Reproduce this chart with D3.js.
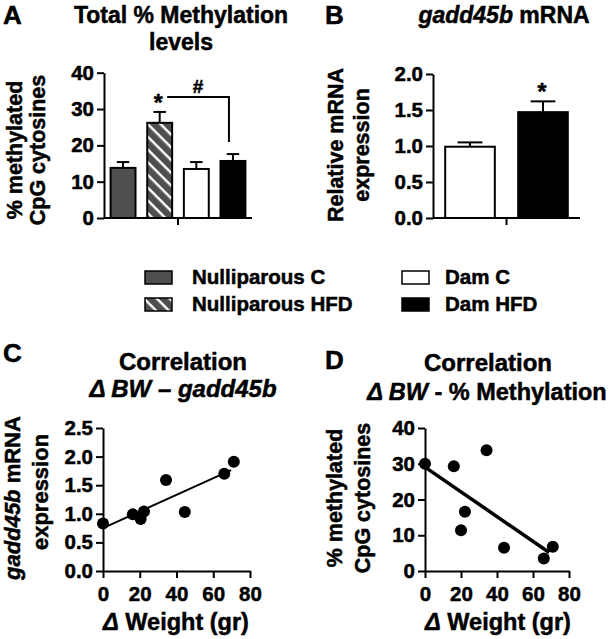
<!DOCTYPE html>
<html>
<head>
<meta charset="utf-8">
<script src="https://cdn.jsdelivr.net/npm/d3@7"></script>
<style>
  body { margin: 0; background: #fff; }
  svg text { font-family: "Liberation Sans", Arial, Helvetica, sans-serif; font-weight: bold; fill: #000; stroke: #000; stroke-width: 0.5px; }
</style>
</head>
<body>
<script>
// ---------------- DATA ----------------
const methylCategories = ["Nulliparous C", "Nulliparous HFD", "Dam C", "Dam HFD"];
const methylMean = [13.8, 26.2, 13.5, 15.7];
const methylSem  = [1.6, 3.0, 1.9, 1.9];
const methylTicks = [0, 10, 20, 30, 40];

const mrnaCategories = ["Dam C", "Dam HFD"];
const mrnaMean = [0.99, 1.47];
const mrnaSem  = [0.06, 0.15];
const mrnaTicks = [0, 0.5, 1.0, 1.5, 2.0];

const weightTicks = [0, 20, 40, 60, 80];

const gaddWeight = [0, 16.2, 20.5, 22.3, 34.3, 44.5, 66.0, 71.2];
const gaddExpr   = [0.83, 0.99, 0.91, 1.04, 1.59, 1.03, 1.70, 1.91];
const gaddTicks  = [0, 0.5, 1.0, 1.5, 2.0, 2.5];

const methWeight = [0, 16.0, 34.2, 22.2, 20.0, 43.9, 66.0, 71.0];
const methPct    = [30.0, 29.3, 33.8, 16.6, 11.4, 6.5, 3.5, 6.8];
const methTicks  = [0, 10, 20, 30, 40];

const legendItems = ["Nulliparous C", "Nulliparous HFD", "Dam C", "Dam HFD"];

// ---------------- STYLES ----------------
const fillOf = {
  "Nulliparous C": "#4f4f4f",
  "Nulliparous HFD": "url(#hatch)",
  "Dam C": "#ffffff",
  "Dam HFD": "#000000"
};

const svg = d3.select("body").append("svg").attr("width", 611).attr("height", 639);

const defs = svg.append("defs");
const pat = defs.append("pattern").attr("id", "hatch")
  .attr("patternUnits", "userSpaceOnUse").attr("width", 9).attr("height", 9)
  .attr("patternTransform", "rotate(45)");
pat.append("rect").attr("width", 9).attr("height", 9).attr("fill", "#4f4f4f");
pat.append("rect").attr("y", 0).attr("width", 9).attr("height", 2.4).attr("fill", "#ffffff");

function styleAxis(g, size) {
  g.selectAll("path.domain").attr("stroke", "#000").attr("stroke-width", 2);
  g.selectAll(".tick line").attr("stroke", "#000").attr("stroke-width", 2);
  g.selectAll(".tick text").style("font-size", (size || 20.5) + "px")
    .style("font-family", '"Liberation Sans", Arial, sans-serif').style("font-weight", "bold")
    .attr("fill", "#000").attr("stroke", "#000").attr("stroke-width", 0.5);
}

function yAxis(scale, ticks, fmt, x) {
  const g = svg.append("g").attr("transform", `translate(${x},0)`)
    .call(d3.axisLeft(scale).tickValues(ticks).tickFormat(fmt).tickSize(7).tickSizeOuter(0).tickPadding(3));
  styleAxis(g);
  return g;
}

function text(x, y, parts, size, anchor, rotate) {
  const t = svg.append("text").attr("x", x).attr("y", y)
    .attr("text-anchor", anchor || "middle").style("font-size", size + "px");
  if (rotate) t.attr("transform", `rotate(-90,${x},${y})`);
  parts.forEach(p => {
    const s = t.append("tspan").text(p[0]);
    if (p[1]) s.style("font-style", "italic");
  });
  return t;
}

// ---------------- PANEL A ----------------
const xA = d3.scaleBand().domain(methylCategories).range([104, 252]).paddingInner(0.32).paddingOuter(0.18);
const yA = d3.scaleLinear().domain([0, 40]).range([218, 72.7]);

const barsA = methylCategories.map((c, i) => ({ c, m: methylMean[i], s: methylSem[i] }));
svg.append("g").selectAll("rect").data(barsA).join("rect")
  .attr("x", d => xA(d.c)).attr("width", xA.bandwidth())
  .attr("y", d => yA(d.m)).attr("height", d => yA(0) - yA(d.m))
  .attr("fill", d => fillOf[d.c]).attr("stroke", "#000").attr("stroke-width", 2);
const errA = svg.append("g").attr("stroke", "#000").attr("stroke-width", 2);
barsA.forEach(d => {
  const cx = xA(d.c) + xA.bandwidth() / 2, w = xA.bandwidth() / 2;
  errA.append("line").attr("x1", cx).attr("x2", cx).attr("y1", yA(d.m)).attr("y2", yA(d.m + d.s));
  errA.append("line").attr("x1", cx - w / 2).attr("x2", cx + w / 2).attr("y1", yA(d.m + d.s)).attr("y2", yA(d.m + d.s));
});
yAxis(yA, methylTicks, d3.format("d"), 104);
svg.append("line").attr("x1", 104).attr("x2", 252).attr("y1", yA(0)).attr("y2", yA(0)).attr("stroke", "#000").attr("stroke-width", 2);
svg.append("line").attr("x1", 178).attr("x2", 178).attr("y1", yA(0)).attr("y2", yA(0) + 7).attr("stroke", "#000").attr("stroke-width", 2);

// significance A
{
  const b2 = barsA[1], b4 = barsA[3];
  const sx = xA(b2.c) + xA.bandwidth() / 2 - 1.5;
  const sy = yA(b2.m + b2.s) - 14;
  text(sx, sy + 13, [["*"]], 23);
  const rx = xA(b4.c) + xA.bandwidth() / 2 - 4;
  svg.append("path").attr("d", `M${sx + 9},${sy - 1}H${rx}V${yA(b4.m + b4.s) - 12}`)
    .attr("fill", "none").attr("stroke", "#000").attr("stroke-width", 2);
  text((sx + 9 + rx) / 2, sy - 5, [["#"]], 19);
}

text(3, 24, [["A"]], 26, "start");
text(181, 23, [["Total % Methylation"]], 23);
text(181, 50, [["levels"]], 23);
text(22, 150, [["% methylated"]], 21.5, "middle", true);
text(45, 150, [["CpG cytosines"]], 21.5, "middle", true);

// ---------------- PANEL B ----------------
const xB = d3.scaleBand().domain(mrnaCategories).range([433, 580]).paddingInner(0.32).paddingOuter(0.167);
const yB = d3.scaleLinear().domain([0, 2]).range([218, 74]);
const barsB = mrnaCategories.map((c, i) => ({ c, m: mrnaMean[i], s: mrnaSem[i] }));
svg.append("g").selectAll("rect").data(barsB).join("rect")
  .attr("x", d => xB(d.c)).attr("width", xB.bandwidth())
  .attr("y", d => yB(d.m)).attr("height", d => yB(0) - yB(d.m))
  .attr("fill", d => fillOf[d.c]).attr("stroke", "#000").attr("stroke-width", 2);
const errB = svg.append("g").attr("stroke", "#000").attr("stroke-width", 2);
barsB.forEach(d => {
  const cx = xB(d.c) + xB.bandwidth() / 2, w = xB.bandwidth() / 2;
  errB.append("line").attr("x1", cx).attr("x2", cx).attr("y1", yB(d.m)).attr("y2", yB(d.m + d.s));
  errB.append("line").attr("x1", cx - w / 2).attr("x2", cx + w / 2).attr("y1", yB(d.m + d.s)).attr("y2", yB(d.m + d.s));
});
yAxis(yB, mrnaTicks, d3.format(".1f"), 433);
svg.append("line").attr("x1", 433).attr("x2", 580).attr("y1", yB(0)).attr("y2", yB(0)).attr("stroke", "#000").attr("stroke-width", 2);
svg.append("line").attr("x1", 506.5).attr("x2", 506.5).attr("y1", yB(0)).attr("y2", yB(0) + 7).attr("stroke", "#000").attr("stroke-width", 2);
{
  const b = barsB[1];
  text(xB(b.c) + xB.bandwidth() / 2 - 1, yB(b.m + b.s) - 14 + 13, [["*"]], 23);
}
text(325, 24, [["B"]], 26, "start");
text(504, 23, [["gadd45b", true], [" mRNA"]], 23);
text(343, 145, [["Relative mRNA"]], 21.5, "middle", true);
text(369, 145, [["expression"]], 21.5, "middle", true);

// ---------------- LEGEND ----------------
const legPos = [[145, 271], [145, 298], [402, 271], [402, 298]];
legendItems.forEach((c, i) => {
  const [lx, ly] = legPos[i];
  svg.append("rect").attr("x", lx).attr("y", ly).attr("width", 27).attr("height", 13)
    .attr("fill", fillOf[c]).attr("stroke", "#000").attr("stroke-width", 1.5);
  text(lx + (i < 2 ? 47 : 43), ly + 13, [[c]], 20.5, "start");
});

// ---------------- PANEL C ----------------
const xC = d3.scaleLinear().domain([0, 80]).range([103, 250]);
const yC = d3.scaleLinear().domain([0, 2.5]).range([571, 428]);
yAxis(yC, gaddTicks, d3.format(".1f"), 103);
{
  const g = svg.append("g").attr("transform", "translate(0,571)")
    .call(d3.axisBottom(xC).tickValues(weightTicks).tickFormat(d3.format("d")).tickSize(7).tickSizeOuter(0).tickPadding(8));
  styleAxis(g);
}
function regress(xs, ys) {
  const mx = d3.mean(xs), my = d3.mean(ys);
  const sxy = d3.sum(xs, (x, i) => (x - mx) * (ys[i] - my));
  const sxx = d3.sum(xs, x => (x - mx) * (x - mx));
  const b = sxy / sxx;
  return { a: my - b * mx, b };
}
{
  const r = regress(gaddWeight, gaddExpr);
  const [x0, x1] = d3.extent(gaddWeight);
  svg.append("line").attr("x1", xC(x0)).attr("x2", xC(x1 - 1.5))
    .attr("y1", yC(r.a + r.b * x0)).attr("y2", yC(r.a + r.b * (x1 - 1.5)))
    .attr("stroke", "#000").attr("stroke-width", 2);
  svg.append("g").selectAll("circle").data(gaddWeight).join("circle")
    .attr("cx", d => xC(d)).attr("cy", (d, i) => yC(gaddExpr[i])).attr("r", 6).attr("fill", "#000");
}
text(3, 362, [["C"]], 26, "start");
text(183, 370, [["Correlation"]], 24);
text(183, 397, [["Δ BW – gadd45b", true]], 24);
text(20, 498, [["gadd45b", true], [" mRNA"]], 22, "middle", true);
text(48, 492, [["expression"]], 22, "middle", true);
text(176, 630, [["Δ", true], [" Weight (gr)"]], 23.5);

// ---------------- PANEL D ----------------
const xD = d3.scaleLinear().domain([0, 80]).range([425, 569]);
const yD = d3.scaleLinear().domain([0, 40]).range([571, 428]);
yAxis(yD, methTicks, d3.format("d"), 425);
{
  const g = svg.append("g").attr("transform", "translate(0,571)")
    .call(d3.axisBottom(xD).tickValues(weightTicks).tickFormat(d3.format("d")).tickSize(7).tickSizeOuter(0).tickPadding(8));
  styleAxis(g);
}
{
  const r = regress(methWeight, methPct);
  const [x0, x1] = d3.extent(methWeight);
  svg.append("line").attr("x1", xD(x0)).attr("x2", xD(x1 - 2))
    .attr("y1", yD(r.a + r.b * x0)).attr("y2", yD(r.a + r.b * (x1 - 2)))
    .attr("stroke", "#000").attr("stroke-width", 3.5);
  svg.append("g").selectAll("circle").data(methWeight).join("circle")
    .attr("cx", d => xD(d)).attr("cy", (d, i) => yD(methPct[i])).attr("r", 6).attr("fill", "#000");
}
text(325, 369, [["D"]], 26, "start");
text(488, 371, [["Correlation"]], 24);
text(487, 400, [["Δ BW", true], [" - % Methylation"]], 23.5);
text(342, 498, [["% methylated"]], 21.5, "middle", true);
text(370, 498, [["CpG cytosines"]], 21.5, "middle", true);
text(498, 630, [["Δ", true], [" Weight (gr)"]], 23.5);
</script>
</body>
</html>
